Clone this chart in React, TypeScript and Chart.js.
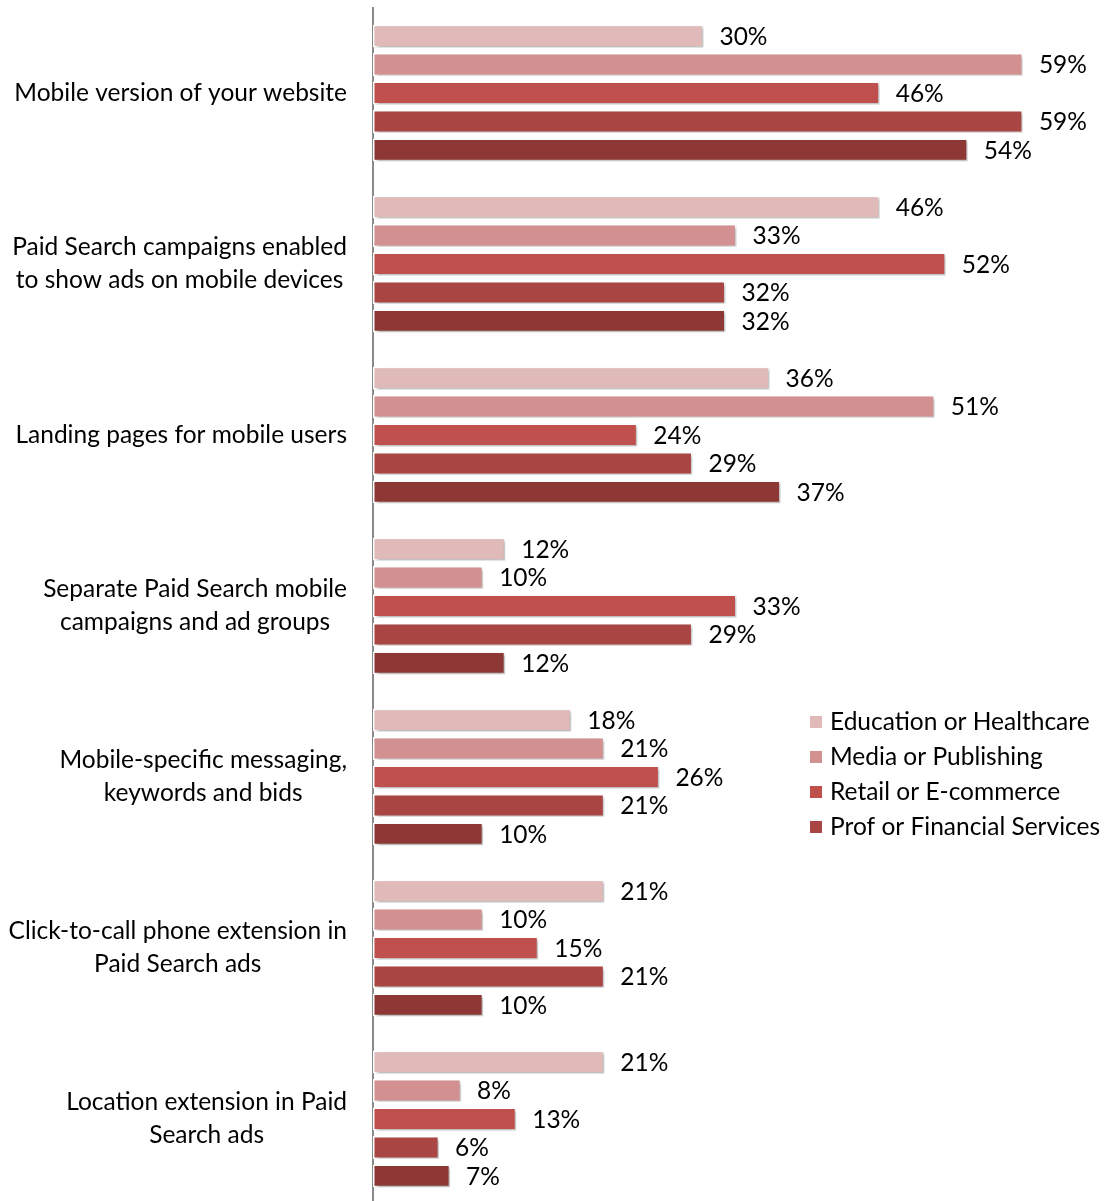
import React, { useEffect, useRef } from "react";
import { Chart, registerables } from "chart.js";

Chart.register(...registerables);

const categories: string[][] = [
  ["Mobile version of your website"],
  ["Paid Search campaigns enabled", "to show ads on mobile devices"],
  ["Landing pages for mobile users"],
  ["Separate Paid Search mobile", "campaigns and ad groups"],
  ["Mobile-specific messaging,", "keywords and bids"],
  ["Click-to-call phone extension in", "Paid Search ads"],
  ["Location extension in Paid", "Search ads"],
];

const seriesNames = [
  "Education or Healthcare",
  "Media or Publishing",
  "Retail or E-commerce",
  "Prof or Financial Services",
  "Other",
];
const legendCount = 4;

const educationHealthcare = [30, 46, 36, 12, 18, 21, 21];
const mediaPublishing = [59, 33, 51, 10, 21, 10, 8];
const retailEcommerce = [46, 52, 24, 33, 26, 15, 13];
const profFinancial = [59, 32, 29, 29, 21, 21, 6];
const otherSeries = [54, 32, 37, 12, 10, 10, 7];

const seriesValues = [educationHealthcare, mediaPublishing, retailEcommerce, profFinancial, otherSeries];
const seriesColors = ["#E0B9B9", "#D39090", "#C0504D", "#A94644", "#8E3836"];

const FONT = "Lato, 'Open Sans', sans-serif";
const FONT_SIZE = 24.5;

const shadowPlugin = {
  id: "barShadow",
  beforeDatasetDraw(chart: any) {
    const ctx = chart.ctx;
    ctx.save();
    ctx.shadowColor = "rgba(0,0,0,0.3)";
    ctx.shadowOffsetX = 2;
    ctx.shadowOffsetY = 2;
    ctx.shadowBlur = 3;
  },
  afterDatasetDraw(chart: any) {
    chart.ctx.restore();
  },
};

const valueLabelPlugin = {
  id: "valueLabels",
  afterDatasetsDraw(chart: any) {
    const ctx = chart.ctx;
    ctx.save();
    ctx.font = `${FONT_SIZE}px ${FONT}`;
    ctx.fillStyle = "#000";
    ctx.textAlign = "left";
    ctx.textBaseline = "middle";
    chart.data.datasets.forEach((ds: any, di: number) => {
      const meta = chart.getDatasetMeta(di);
      meta.data.forEach((bar: any, i: number) => {
        ctx.fillText(`${ds.data[i]}%`, bar.x + 16, bar.y + 1);
      });
    });
    ctx.restore();
  },
};

const categoryLabelPlugin = {
  id: "categoryLabels",
  afterDraw(chart: any) {
    const ctx = chart.ctx;
    const yScale = chart.scales.y;
    const rightEdge = 347;
    const lineH = 33;
    ctx.save();
    ctx.font = `${FONT_SIZE}px ${FONT}`;
    ctx.fillStyle = "#000";
    ctx.textAlign = "center";
    ctx.textBaseline = "middle";
    categories.forEach((lines, i) => {
      const cy = yScale.getPixelForValue(i);
      const maxW = Math.max(...lines.map((l) => ctx.measureText(l).width));
      const cx = rightEdge - maxW / 2;
      const startY = cy - ((lines.length - 1) * lineH) / 2;
      lines.forEach((l, li) => ctx.fillText(l, cx, startY + li * lineH));
    });
    ctx.restore();
  },
};

const legendPlugin = {
  id: "customLegend",
  afterDraw(chart: any) {
    const ctx = chart.ctx;
    ctx.save();
    ctx.font = `${FONT_SIZE}px ${FONT}`;
    ctx.textAlign = "left";
    ctx.textBaseline = "middle";
    for (let i = 0; i < legendCount; i++) {
      const y = 722 + i * 35;
      ctx.fillStyle = seriesColors[i];
      ctx.fillRect(810, y - 6, 12, 12);
      ctx.fillStyle = "#000";
      ctx.fillText(seriesNames[i], 830, y);
    }
    ctx.restore();
  },
};

export default function App() {
  const canvasRef = useRef<HTMLCanvasElement | null>(null);

  useEffect(() => {
    if (!canvasRef.current) return;
    const chart = new Chart(canvasRef.current, {
      type: "bar",
      data: {
        labels: categories.map((c) => c.join(" ")),
        datasets: seriesValues.map((vals, i) => ({
          label: seriesNames[i],
          data: vals,
          backgroundColor: seriesColors[i],
          borderColor: "#ffffff",
          borderWidth: 1.5,
          borderSkipped: false,
          barPercentage: 0.8,
          categoryPercentage: 0.833,
        })),
      },
      options: {
        indexAxis: "y",
        animation: false,
        responsive: false,
        maintainAspectRatio: false,
        layout: { padding: { left: 365, right: 4, top: 7.5, bottom: 0.5 } },
        plugins: {
          legend: { display: false },
          tooltip: { enabled: false },
        },
        scales: {
          x: { display: false, min: 0, max: 66 },
          y: {
            grid: { display: false },
            ticks: { display: false },
            border: { display: true, color: "#8a8a8a", width: 2 },
          },
        },
      },
      plugins: [shadowPlugin, valueLabelPlugin, categoryLabelPlugin, legendPlugin],
    });
    return () => chart.destroy();
  }, []);

  return (
    <div style={{ position: "fixed", left: 0, top: 0, width: 1104, height: 1201, overflow: "hidden", background: "#fff" }}>
      <canvas ref={canvasRef} width={1104} height={1205} style={{ width: 1104, height: 1205, display: "block" }} />
    </div>
  );
}
